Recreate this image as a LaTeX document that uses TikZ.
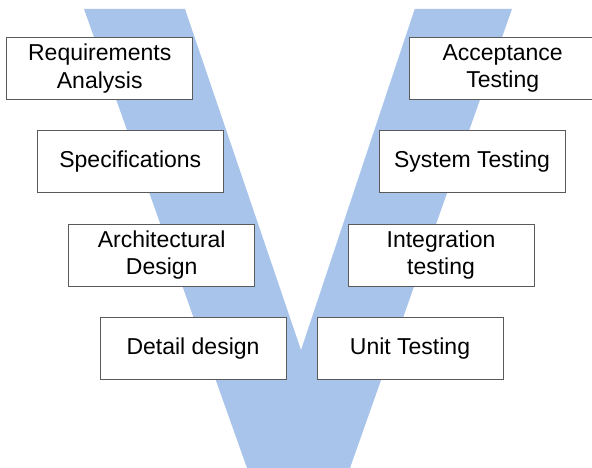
\documentclass[tikz,border=0pt]{standalone}
\usepackage{fontspec}
\setmainfont{Liberation Sans}
\definecolor{vblue}{RGB}{169,196,235}
\definecolor{boxline}{RGB}{90,90,90}
\begin{document}
\begin{tikzpicture}[x=1pt,y=-1pt,
  stage/.style={draw=boxline,line width=0.9pt,fill=white,minimum width=186pt,minimum height=62pt,
    inner sep=0pt,align=center,font=\fontsize{23}{27.6}\selectfont}]
\useasboundingbox (0,0) rectangle (592,468);
\fill[vblue] (84,9) -- (185,9) -- (301,350) -- (414.7,9) -- (512,9) -- (350,468) -- (247,468) -- cycle;
\node[stage] (ra) at (99.7,68.3) {Requirements\\Analysis};
\node[stage] (spec) at (130.3,161.7) {Specifications};
\node[stage] (arch) at (161.7,255) {Architectural\\Design};
\node[stage] (det) at (193,348.3) {Detail design};
\node[stage] (acc) at (502.7,68.3) {Acceptance\\Testing};
\node[stage] (sys) at (472,161.7) {System Testing};
\node[stage] (int) at (441,255) {Integration\\testing};
\node[stage] (unit) at (410,348.3) {Unit Testing};
\end{tikzpicture}
\end{document}
